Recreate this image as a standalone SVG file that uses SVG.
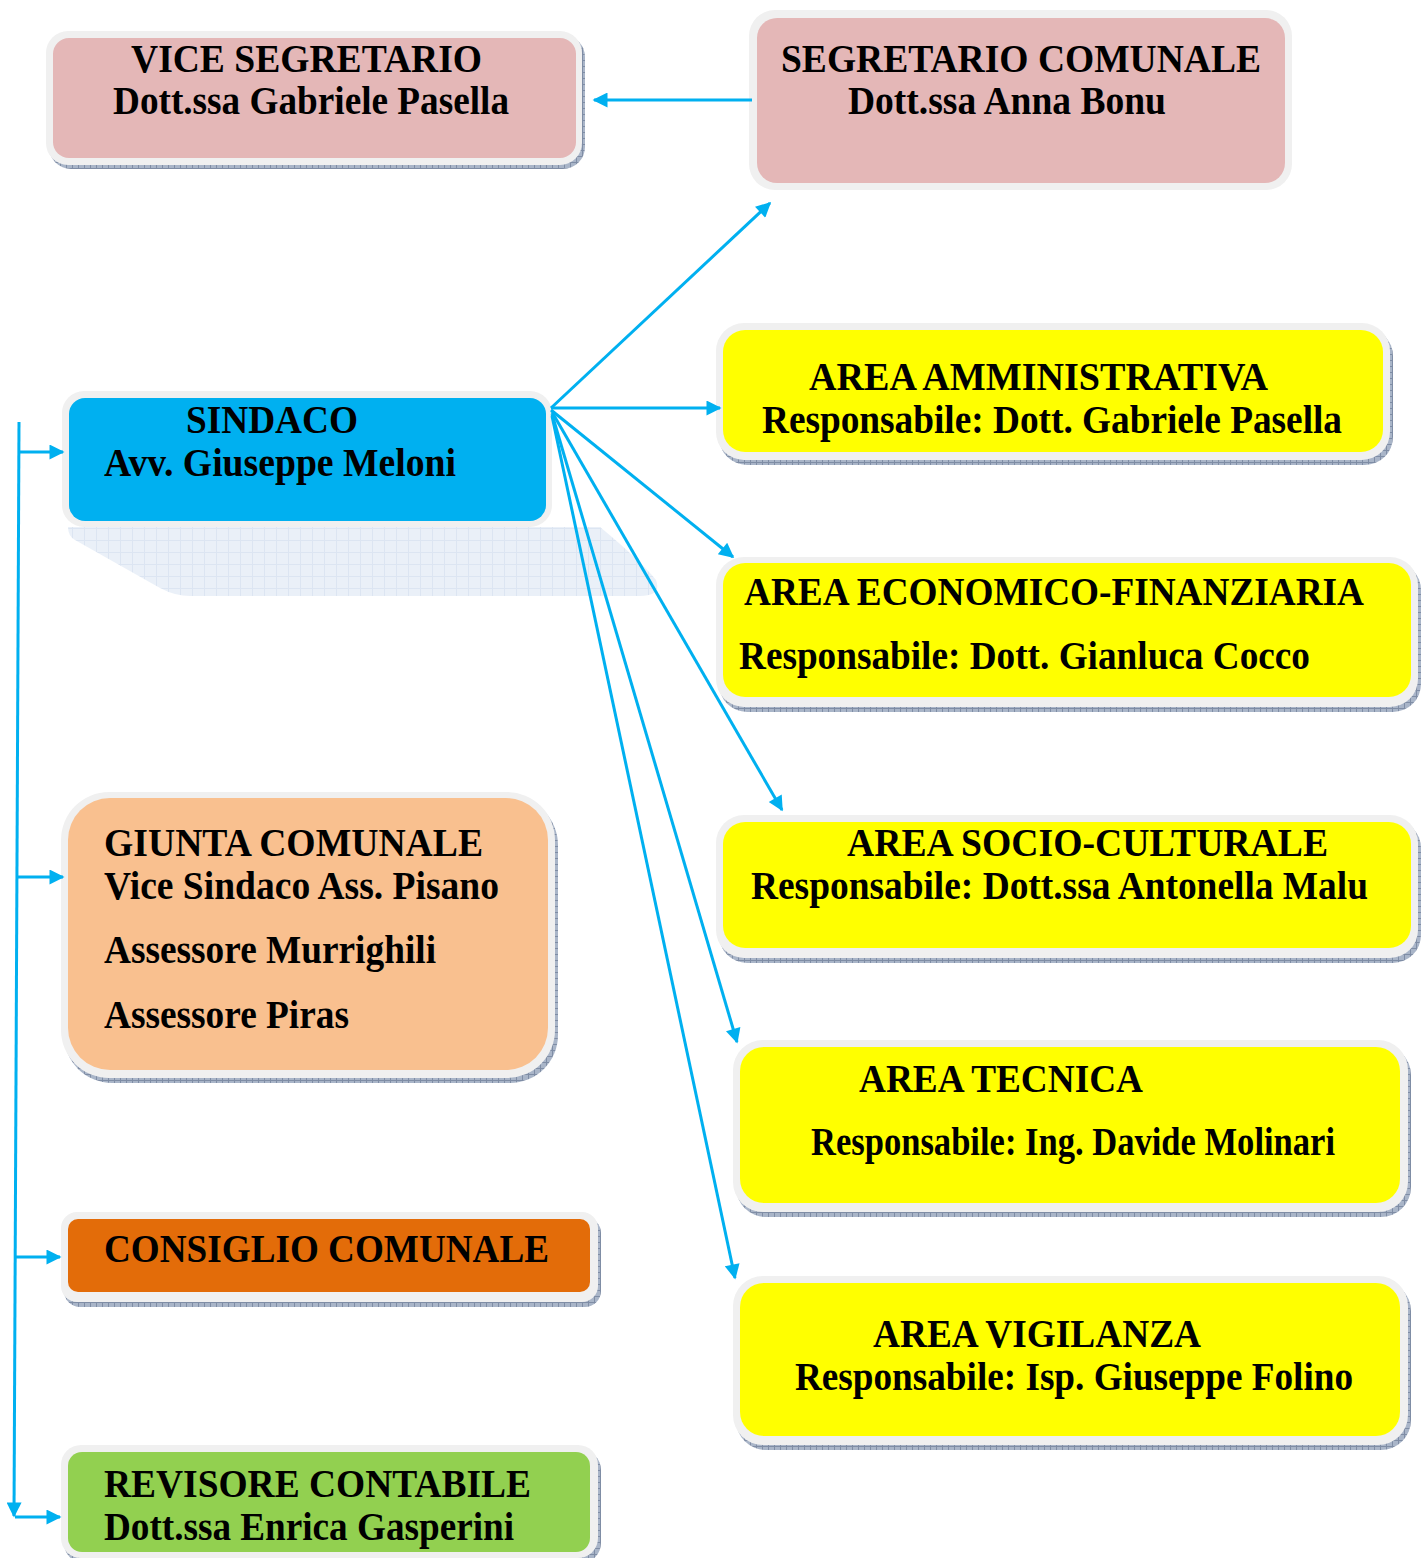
<svg xmlns="http://www.w3.org/2000/svg" width="1421" height="1558" viewBox="0 0 1421 1558">
<style>
.border{fill:#F0F0F0}
.shadow{fill:url(#hatch)}
.pink{fill:#E4B7B7}
.blue{fill:#00B0F0}
.yellow{fill:#FFFF00}
.peach{fill:#F9C08F}
.orange{fill:#E36C09}
.green{fill:#92D050}
text{font-family:"Liberation Serif","Times New Roman",serif;font-weight:bold;font-size:40px;fill:#000}
.conn{stroke:#00B0F0;stroke-width:3;fill:none}
</style>
<defs>
<pattern id="hatch" width="6" height="6" patternUnits="userSpaceOnUse">
<rect width="6" height="6" fill="#A9B5C8"/>
<path d="M0 0.5H6M0.5 0V6" stroke="#7F8DA5" stroke-width="1"/>
</pattern>
<pattern id="grid" width="12" height="12" patternUnits="userSpaceOnUse">
<rect width="12" height="12" fill="#EAF0F8"/>
<path d="M0 0.5H12M0.5 0V12" stroke="#DCE5F2" stroke-width="1"/>
</pattern>
<marker id="arr" viewBox="0 0 10 10" refX="9" refY="5" markerWidth="5.5" markerHeight="5" orient="auto" markerUnits="strokeWidth">
<path d="M0 0L10 5L0 10Z" fill="#00B0F0"/>
</marker>
</defs>

<g id="vice-segretario">
<rect class="shadow" x="49" y="35" width="536" height="134" rx="22"/>
<rect class="border" x="46" y="31" width="536" height="134" rx="22"/>
<rect class="pink" x="53" y="38" width="523" height="120" rx="16"/>
<text x="131" y="72" textLength="351" lengthAdjust="spacingAndGlyphs">VICE SEGRETARIO</text>
<text x="113" y="114" textLength="396" lengthAdjust="spacingAndGlyphs">Dott.ssa Gabriele Pasella</text>
</g>

<g id="segretario-comunale">
<rect class="border" x="749" y="10" width="543" height="180" rx="26"/>
<rect class="pink" x="757" y="18" width="528" height="165" rx="20"/>
<text x="781" y="72" textLength="480" lengthAdjust="spacingAndGlyphs">SEGRETARIO COMUNALE</text>
<text x="848" y="114" textLength="318" lengthAdjust="spacingAndGlyphs">Dott.ssa Anna Bonu</text>
</g>

<g id="sindaco">
<path d="M68 527 L600 527 Q640 560 656 580 Q662 596 640 596 L190 596 Q175 596 160 588 L75 540 Q68 536 68 527Z" fill="url(#grid)"/>
<rect class="border" x="62" y="391" width="490" height="136" rx="22"/>
<rect class="blue" x="69" y="398" width="477" height="123" rx="16"/>
<text x="186" y="433" textLength="172" lengthAdjust="spacingAndGlyphs">SINDACO</text>
<text x="104" y="476" textLength="352" lengthAdjust="spacingAndGlyphs">Avv. Giuseppe Meloni</text>
</g>

<g id="area-amministrativa">
<rect class="shadow" x="719" y="328" width="674" height="137" rx="28"/>
<rect class="border" x="716" y="323" width="674" height="137" rx="28"/>
<rect class="yellow" x="723" y="330" width="660" height="122" rx="22"/>
<text x="809" y="390" textLength="459" lengthAdjust="spacingAndGlyphs">AREA AMMINISTRATIVA</text>
<text x="762" y="433" textLength="580" lengthAdjust="spacingAndGlyphs">Responsabile: Dott. Gabriele Pasella</text>
</g>

<g id="area-economico-finanziaria">
<rect class="shadow" x="719" y="562" width="702" height="150" rx="28"/>
<rect class="border" x="716" y="557" width="702" height="150" rx="28"/>
<rect class="yellow" x="723" y="563" width="688" height="134" rx="22"/>
<text x="744" y="605" textLength="620" lengthAdjust="spacingAndGlyphs">AREA ECONOMICO-FINANZIARIA</text>
<text x="739" y="669" textLength="571" lengthAdjust="spacingAndGlyphs">Responsabile: Dott. Gianluca Cocco</text>
</g>

<g id="area-socio-culturale">
<rect class="shadow" x="719" y="820" width="702" height="143" rx="28"/>
<rect class="border" x="716" y="815" width="702" height="143" rx="28"/>
<rect class="yellow" x="723" y="822" width="688" height="126" rx="22"/>
<text x="847" y="856" textLength="481" lengthAdjust="spacingAndGlyphs">AREA SOCIO-CULTURALE</text>
<text x="751" y="899" textLength="617" lengthAdjust="spacingAndGlyphs">Responsabile: Dott.ssa Antonella Malu</text>
</g>

<g id="area-tecnica">
<rect class="shadow" x="736" y="1045" width="675" height="172" rx="30"/>
<rect class="border" x="733" y="1040" width="675" height="172" rx="30"/>
<rect class="yellow" x="740" y="1047" width="660" height="156" rx="24"/>
<text x="859" y="1092" textLength="284" lengthAdjust="spacingAndGlyphs">AREA TECNICA</text>
<text x="811" y="1155" textLength="524" lengthAdjust="spacingAndGlyphs">Responsabile: Ing. Davide Molinari</text>
</g>

<g id="area-vigilanza">
<rect class="shadow" x="736" y="1281" width="675" height="169" rx="30"/>
<rect class="border" x="733" y="1276" width="675" height="169" rx="30"/>
<rect class="yellow" x="740" y="1283" width="660" height="153" rx="24"/>
<text x="873" y="1347" textLength="328" lengthAdjust="spacingAndGlyphs">AREA VIGILANZA</text>
<text x="795" y="1390" textLength="558" lengthAdjust="spacingAndGlyphs">Responsabile: Isp. Giuseppe Folino</text>
</g>

<g id="giunta-comunale">
<rect class="shadow" x="64" y="797" width="494" height="286" rx="48"/>
<rect class="border" x="61" y="792" width="494" height="286" rx="48"/>
<rect class="peach" x="68" y="798" width="480" height="272" rx="42"/>
<text x="104" y="856" textLength="379" lengthAdjust="spacingAndGlyphs">GIUNTA COMUNALE</text>
<text x="104" y="899" textLength="395" lengthAdjust="spacingAndGlyphs">Vice Sindaco Ass. Pisano</text>
<text x="104" y="963" textLength="332" lengthAdjust="spacingAndGlyphs">Assessore Murrighili</text>
<text x="104" y="1028" textLength="245" lengthAdjust="spacingAndGlyphs">Assessore Piras</text>
</g>

<g id="consiglio-comunale">
<rect class="shadow" x="64" y="1217" width="537" height="90" rx="16"/>
<rect class="border" x="61" y="1212" width="537" height="90" rx="16"/>
<rect class="orange" x="68" y="1219" width="522" height="73" rx="10"/>
<text x="104" y="1262" textLength="445" lengthAdjust="spacingAndGlyphs">CONSIGLIO COMUNALE</text>
</g>

<g id="revisore-contabile">
<rect class="shadow" x="64" y="1450" width="537" height="113" rx="20"/>
<rect class="border" x="61" y="1445" width="537" height="113" rx="20"/>
<rect class="green" x="68" y="1452" width="522" height="100" rx="14"/>
<text x="104" y="1497" textLength="427" lengthAdjust="spacingAndGlyphs">REVISORE CONTABILE</text>
<text x="104" y="1540" textLength="410" lengthAdjust="spacingAndGlyphs">Dott.ssa Enrica Gasperini</text>
</g>

<g id="connectors">
<line class="conn" x1="752" y1="100" x2="594" y2="100" marker-end="url(#arr)"/>
<line class="conn" x1="551" y1="408" x2="770" y2="203" marker-end="url(#arr)"/>
<line class="conn" x1="551" y1="408" x2="720" y2="408" marker-end="url(#arr)"/>
<line class="conn" x1="551" y1="410" x2="733" y2="557" marker-end="url(#arr)"/>
<line class="conn" x1="552" y1="412" x2="782" y2="810" marker-end="url(#arr)"/>
<line class="conn" x1="552" y1="414" x2="737" y2="1042" marker-end="url(#arr)"/>
<line class="conn" x1="552" y1="416" x2="735" y2="1278" marker-end="url(#arr)"/>
<line class="conn" x1="19" y1="422" x2="14" y2="1516" marker-end="url(#arr)"/>
<line class="conn" x1="19" y1="452" x2="63" y2="452" marker-end="url(#arr)"/>
<line class="conn" x1="18" y1="877" x2="63" y2="877" marker-end="url(#arr)"/>
<line class="conn" x1="16" y1="1257" x2="60" y2="1257" marker-end="url(#arr)"/>
<line class="conn" x1="15" y1="1517" x2="60" y2="1517" marker-end="url(#arr)"/>
</g>
</svg>
